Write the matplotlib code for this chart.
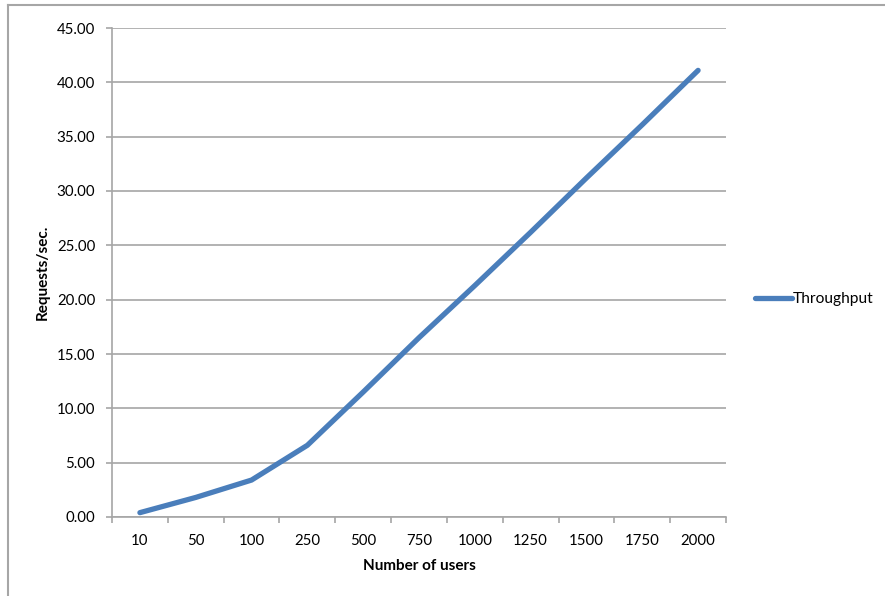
import numpy as np
import matplotlib.pyplot as plt
from matplotlib.lines import Line2D

plt.rcParams['font.family'] = ['Lato', 'DejaVu Sans']

users = ['10', '50', '100', '250', '500', '750', '1000', '1250', '1500', '1750', '2000']
throughput = [0.4, 1.8, 3.4, 6.6, 11.5, 16.5, 21.3, 26.2, 31.2, 36.1, 41.1]

gridCol = '#a6a6a6'
lineCol = '#4a7ebb'

fig = plt.figure(figsize=(8.85, 5.96), dpi=100)
ax = fig.add_axes([112/885, 79/596, 614/885, 489/596])

x = np.arange(len(users))
ax.plot(x, throughput, color=lineCol, lw=3.8, solid_capstyle='round',
        solid_joinstyle='round', label='Throughput', zorder=3)

ax.set_xlim(-0.5, len(users) - 0.5)
ax.set_ylim(0, 45)
ax.set_yticks(np.arange(0, 46, 5))
ax.set_yticklabels(['%.2f' % v for v in np.arange(0, 46, 5)])
ax.yaxis.grid(True, color=gridCol, lw=1.2)
ax.set_axisbelow(True)

# category boundaries get the tick marks, labels sit between them
ax.set_xticks(np.arange(-0.5, len(users), 1.0))
ax.set_xticklabels([])
ax.set_xticks(x, minor=True)
ax.set_xticklabels(users, minor=True)
ax.tick_params(axis='x', which='major', length=4, width=1.2, color=gridCol, direction='out')
ax.tick_params(axis='x', which='minor', length=0, pad=12, labelsize=10.8)
ax.tick_params(axis='y', length=4, width=1.2, color=gridCol, direction='out', pad=8, labelsize=10.8)

for s in ['top', 'right']:
  ax.spines[s].set_visible(False)
for s in ['left', 'bottom']:
  ax.spines[s].set_color(gridCol)
  ax.spines[s].set_linewidth(1.2)

ax.set_xlabel('Number of users', fontweight='bold', fontsize=11, labelpad=8)
ax.set_ylabel('Requests/sec.', fontweight='bold', fontsize=11, labelpad=5)

leg = ax.legend(loc='center left', bbox_to_anchor=(1.037, 0.445), frameon=False,
                fontsize=11.2, handlelength=2.4, handletextpad=0.05, borderaxespad=0)

# chart frame (top and left edges)
fig.add_artist(Line2D([8/885, 1], [1 - 5/596, 1 - 5/596], color=gridCol, lw=1.5))
fig.add_artist(Line2D([8/885, 8/885], [0, 1 - 5/596], color=gridCol, lw=1.5))

fig.savefig('out.png', dpi=100)
